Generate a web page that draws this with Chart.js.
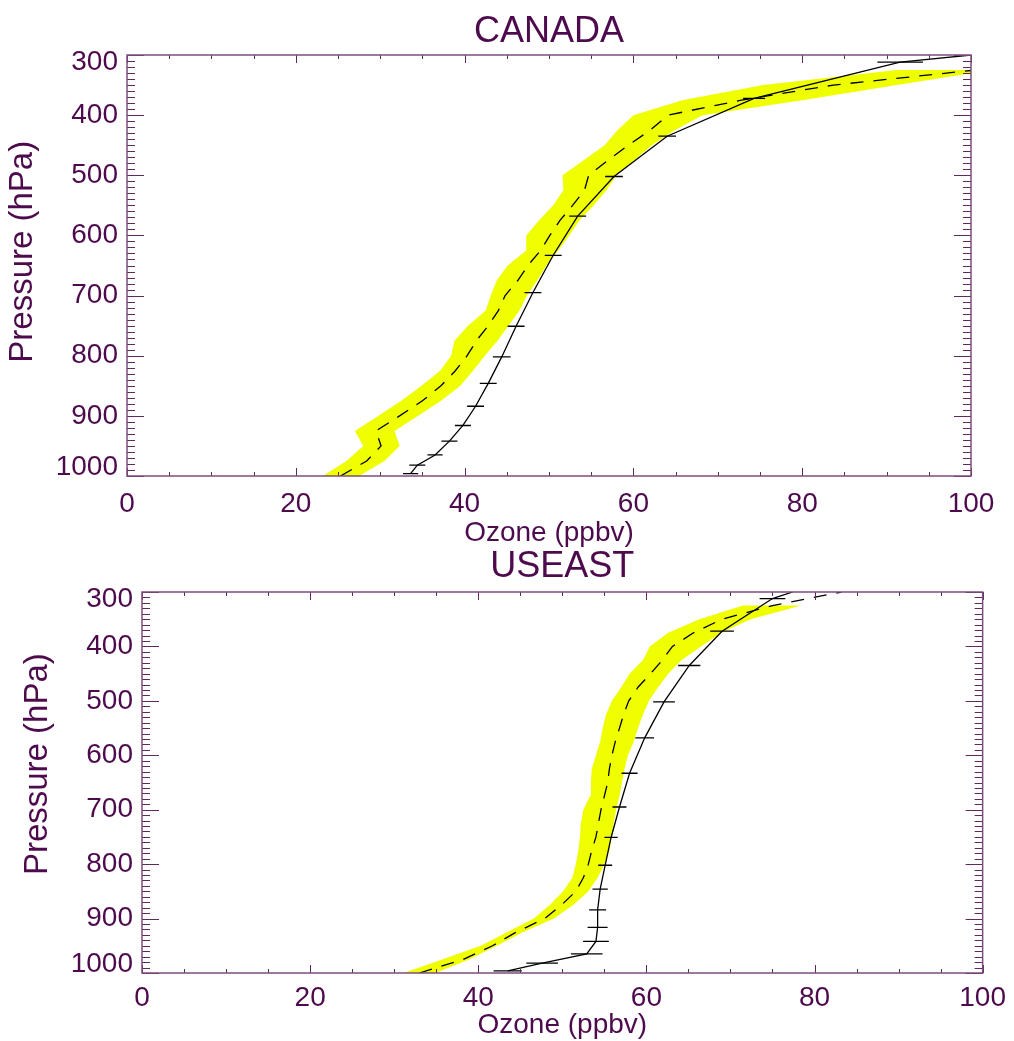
<!DOCTYPE html>
<html>
<head>
<meta charset="utf-8">
<title>Ozone profiles</title>
<script src="https://cdn.jsdelivr.net/npm/chart.js@4.4.1/dist/chart.umd.min.js"></script>
<style>
  html, body { margin: 0; padding: 0; background: #fff; }
  canvas { display: block; }
</style>
</head>
<body>
<canvas id="canadaChart" width="1014" height="548"></canvas>
<canvas id="useastChart" width="1014" height="493"></canvas>
<script>
// Pressure levels (hPa)
const modelLevels = [1000, 975, 950, 925, 900, 875, 850, 825, 800, 775, 750, 725, 700, 675, 650,
                     625, 600, 575, 550, 525, 500, 475, 450, 425, 400, 375, 350, 325, 300];
const obsLevels = [996, 982, 965, 942, 916, 884, 846, 802, 751, 695, 633, 568, 502, 435, 372, 312, 300];

const xTicks = [0, 20, 40, 60, 80, 100];
const yTicks = [300, 400, 500, 600, 700, 800, 900, 1000];

// CANADA (ppbv)
const canadaMean = [25.3, 28.4, 30.1, 29.5, 32.3, 35.0, 37.2, 38.9, 40.3, 41.4, 42.8, 44.0, 44.8, 46.3, 47.5,
                    49.0, 50.1, 51.3, 52.8, 54.2, 54.7, 57.0, 59.4, 62.0, 64.1, 72.8, 83.7, 100.5, null];
const canadaLow = [23.2, 26.0, 28.0, 27.0, 29.8, 32.5, 34.9, 37.1, 38.4, 38.8, 40.4, 42.5, 43.1, 43.8, 45.1,
                   47.3, 47.3, 48.8, 50.5, 51.7, 51.6, 54.1, 56.6, 58.1, 60.0, 65.9, 75.4, 91.2, null];
const canadaHigh = [27.5, 30.5, 32.3, 31.7, 34.5, 37.2, 39.5, 41.0, 42.4, 43.9, 45.2, 46.5, 47.4, 48.6, 49.7,
                    51.1, 52.4, 53.6, 55.3, 56.8, 58.0, 60.1, 62.2, 64.9, 68.2, 80.2, 91.2, 102.5, null];
const canadaObs = [33.6, 34.4, 36.5, 38.2, 39.8, 41.3, 42.8, 44.4, 46.1, 48.1, 50.5, 53.4, 57.7, 64.0, 74.3, 91.6, 100.0];
const canadaErr = [0.9, 0.95, 0.9, 0.95, 0.95, 1.0, 1.0, 1.05, 1.0, 1.0, 1.0, 1.0, 1.05, 1.05, 1.3, 2.7, null];

// USEAST (ppbv)
const useastMean = [33.0, 38.2, 41.7, 44.5, 47.9, 49.9, 51.6, 52.5, 53.1, 53.5, 54.0, 54.3, 54.6, 55.0, 55.4,
                    55.6, 55.9, 56.3, 56.8, 57.3, 57.9, 59.0, 60.5, 61.9, 63.1, 65.6, 69.0, 75.0, 83.2];
const useastLow = [31.1, 35.7, 40.3, 43.4, 46.6, 48.5, 50.1, 51.2, 51.6, 51.9, 52.1, 52.2, 52.5, 53.3, 53.4,
                   53.5, 54.0, 54.5, 54.8, 55.2, 55.9, 57.0, 58.0, 59.6, 60.4, 62.6, 66.3, 71.5, null];
const useastHigh = [34.9, 38.9, 42.2, 45.3, 49.0, 51.3, 53.1, 54.2, 55.0, 55.6, 55.9, 56.1, 56.4, 56.8, 57.1,
                    57.4, 57.8, 58.5, 59.0, 59.6, 60.3, 61.4, 62.6, 64.2, 66.5, 68.9, 72.4, 78.4, null];
const useastObs = [43.5, 47.6, 52.9, 54.0, 54.2, 54.2, 54.5, 55.1, 55.8, 56.8, 58.0, 59.8, 62.1, 65.1, 69.0, 75.0, 77.4];
const useastErr = [1.68, 1.88, 1.88, 1.53, 1.19, 1.01, 0.91, 0.83, 0.79, 0.83, 0.95, 1.11, 1.29, 1.32, 1.41, 1.53, null];

const purple = '#4d0b4d';
const fontFamily = "'Liberation Sans', Arial, Helvetica, sans-serif";
Chart.defaults.font.family = fontFamily;

function profile(values, levels) {
    return levels.map(function(p, i) { return {x: values[i], y: p}; })
        .filter(function(pt) { return pt.x !== null; });
}

function band(low, high, levels) {
    return profile(low, levels).concat(profile(high, levels).reverse());
}

// horizontal error bars on the observed profile
const errorBars = {
    id: 'errorBars',
    afterDatasetsDraw(chart, args, opts) {
        const {ctx, chartArea: a, scales: {x, y}} = chart;
        const data = chart.data.datasets[opts.dataset].data;
        ctx.save();
        ctx.beginPath();
        ctx.rect(a.left, a.top, a.width, a.height);
        ctx.clip();
        ctx.strokeStyle = '#000';
        ctx.lineWidth = 1.3;
        ctx.beginPath();
        opts.err.forEach(function(e, i) {
            if (e === null) return;
            const py = y.getPixelForValue(data[i].y);
            ctx.moveTo(x.getPixelForValue(data[i].x - e), py);
            ctx.lineTo(x.getPixelForValue(data[i].x + e), py);
        });
        ctx.stroke();
        ctx.restore();
    }
};

// box with inward major/minor ticks and the pressure labels
const idlFrame = {
    id: 'idlFrame',
    afterDraw(chart) {
        const {ctx, chartArea: a, scales: {x, y}} = chart;
        ctx.save();
        ctx.strokeStyle = '#5e2a5e';
        ctx.lineWidth = 1;
        ctx.beginPath();
        for (let v = 0; v <= 100; v += 5) {
            const px = Math.round(x.getPixelForValue(v)) + 0.5;
            const len = v % 20 === 0 ? 8 : 4;
            ctx.moveTo(px, a.bottom); ctx.lineTo(px, a.bottom - len);
            ctx.moveTo(px, a.top); ctx.lineTo(px, a.top + len);
        }
        for (let p = 300; p <= 1000; p += 10) {
            const py = Math.round(y.getPixelForValue(p)) + 0.5;
            const len = p % 100 === 0 ? 17 : 8;
            ctx.moveTo(a.left, py); ctx.lineTo(a.left + len, py);
            ctx.moveTo(a.right, py); ctx.lineTo(a.right - len, py);
        }
        ctx.stroke();

        ctx.strokeStyle = '#7d4d7d';
        ctx.lineWidth = 1.5;
        ctx.strokeRect(a.left, a.top, a.width, a.height);

        ctx.fillStyle = purple;
        ctx.font = '28px ' + fontFamily;
        ctx.textAlign = 'right';
        ctx.textBaseline = 'middle';
        yTicks.forEach(function(p) {
            const py = Math.min(Math.max(y.getPixelForValue(p), a.top + 7), a.bottom - 9);
            ctx.fillText(String(p), a.left - 9, py);
        });
        ctx.restore();
    }
};

function makeChart(id, title, mean, low, high, obs, err, L) {
    const ctx = document.getElementById(id).getContext('2d');
    return new Chart(ctx, {
        type: 'line',
        data: {
            datasets: [{
                label: 'Observed',
                data: profile(obs, obsLevels),
                borderColor: '#000',
                borderWidth: 1.3,
                pointRadius: 0,
                fill: false
            }, {
                label: 'Model mean',
                data: profile(mean, modelLevels),
                borderColor: '#000',
                borderWidth: 1.3,
                borderDash: [13, 10],
                pointRadius: 0,
                fill: false
            }, {
                label: 'Model range',
                data: band(low, high, modelLevels),
                borderWidth: 0,
                backgroundColor: '#f0ff00',
                pointRadius: 0,
                fill: 'shape'
            }]
        },
        options: {
            responsive: false,
            animation: false,
            layout: { padding: { left: 0, right: L.padRight, top: 0, bottom: 0 } },
            plugins: {
                legend: { display: false },
                tooltip: { enabled: false },
                title: {
                    display: true,
                    text: title,
                    color: purple,
                    fullSize: false,
                    font: { size: 36, weight: 'normal', lineHeight: 1 },
                    padding: L.titlePad
                },
                errorBars: { dataset: 0, err: err }
            },
            scales: {
                x: {
                    type: 'linear',
                    min: 0,
                    max: 100,
                    afterBuildTicks: function(s) { s.ticks = xTicks.map(function(v) { return {value: v}; }); },
                    afterFit: function(s) { s.height = L.xHeight; },
                    grid: { display: false, drawTicks: false },
                    border: { display: false },
                    ticks: { color: purple, font: { size: 28 }, padding: L.xPad, maxRotation: 0 },
                    title: {
                        display: true,
                        text: 'Ozone (ppbv)',
                        color: purple,
                        font: { size: 28, lineHeight: 1 },
                        padding: { top: 0, bottom: L.xTitlePad }
                    }
                },
                y: {
                    type: 'linear',
                    min: 300,
                    max: 1000,
                    reverse: true,
                    afterBuildTicks: function(s) { s.ticks = yTicks.map(function(v) { return {value: v}; }); },
                    afterFit: function(s) { s.width = L.yWidth; },
                    grid: { display: false, drawTicks: false },
                    border: { display: false },
                    ticks: { display: false },
                    title: {
                        display: true,
                        text: L.yTitle,
                        color: purple,
                        font: { size: 33, lineHeight: 1 },
                        padding: { top: L.yTitlePad, bottom: 0 }
                    }
                }
            }
        },
        plugins: [errorBars, idlFrame]
    });
}

makeChart('canadaChart', 'CANADA', canadaMean, canadaLow, canadaHigh, canadaObs, canadaErr, {
    padRight: 43, titlePad: { top: 14, bottom: 5 }, xHeight: 72, xPad: 11, xTitlePad: 1,
    yWidth: 127, yTitlePad: 6, yTitle: '   Pressure (hPa)'
});
makeChart('useastChart', 'USEAST', useastMean, useastLow, useastHigh, useastObs, useastErr, {
    padRight: 28, titlePad: { top: 1, bottom: 7 }, xHeight: 68, xPad: 8, xTitlePad: 2,
    yWidth: 142, yTitlePad: 21, yTitle: '    Pressure (hPa)'
});
</script>
</body>
</html>
